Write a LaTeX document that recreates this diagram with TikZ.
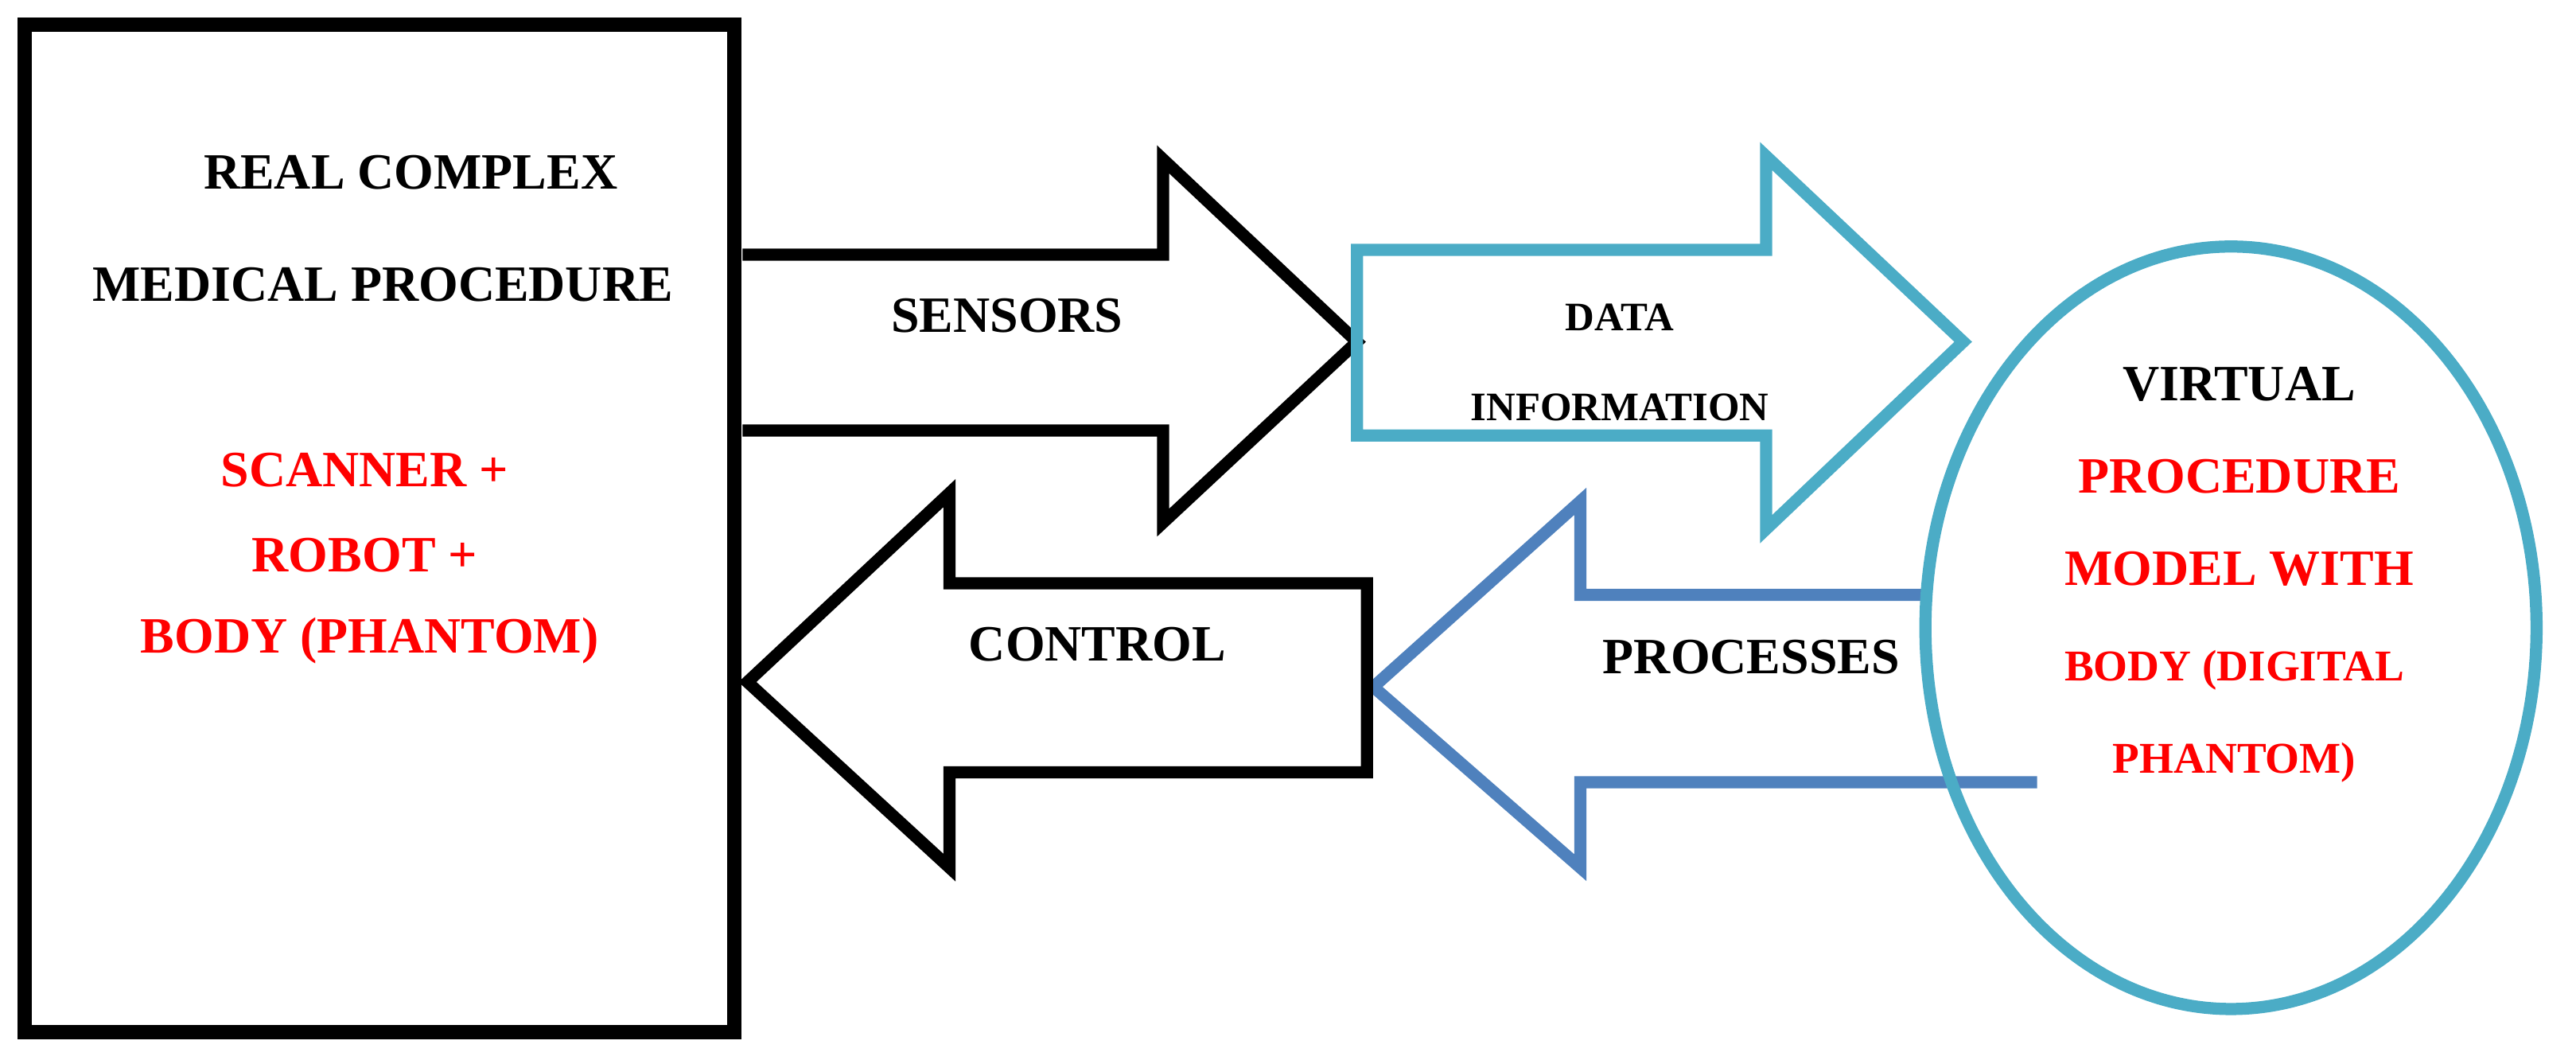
\documentclass[tikz,border=0pt]{standalone}
\usepackage{fontspec}
\setmainfont{Liberation Serif}
\usetikzlibrary{positioning}
\definecolor{teal}{HTML}{4BACC6}
\definecolor{steel}{HTML}{4F81BD}
\definecolor{redtxt}{HTML}{FF0000}
\tikzset{
  lbl/.style={font=\fontsize{8.8}{10}\selectfont\bfseries, inner sep=0pt},
  small/.style={font=\fontsize{7}{8}\selectfont\bfseries, inner sep=0pt},
  redlbl/.style={lbl, text=redtxt},
  arr/.style={line width=2.1pt, line join=miter}
}
\begin{document}
\begin{tikzpicture}[x=0.01cm, y=-0.01cm]
	\useasboundingbox (0,0) rectangle (1568,645);
	% The frame:
	\draw[line width=2.4pt] (15,15) rectangle (447,628);
	% Arrows:
	\draw[arr, black] (452,155) -- (708,155) -- (708,97) -- (826,208)
		-- (708,318) -- (708,262) -- (452,262);
	\draw[arr, teal] (826,152) -- (1075,152) -- (1075,95) -- (1195,208)
		-- (1075,322) -- (1075,265) -- (826,265) -- cycle;
	\draw[arr, steel] (1175,362) -- (962,362) -- (962,305) -- (836,418)
		-- (962,528) -- (962,476) -- (1240,476);
	\draw[arr, black] (832,355) -- (578,355) -- (578,300) -- (455,415)
		-- (578,528) -- (578,470) -- (832,470) -- cycle;
	% Model:
	\draw[teal, line width=2.1pt] (1358,382) ellipse [x radius=186, y radius=232];
	% Labels:
	\node[lbl] (real) at (250,105) {REAL COMPLEX};
	\node[lbl] (medical) at (233,173) {MEDICAL PROCEDURE};
	\node[redlbl] (scanner) at (222,286) {SCANNER +};
	\node[redlbl] (robot) at (222,338) {ROBOT +};
	\node[redlbl] (body) at (225,390) {BODY (PHANTOM)};
	\node[lbl] (sensors) at (613,192) {SENSORS};
	\node[small] (data) at (986,193) {DATA};
	\node[small] (info) at (986,248) {INFORMATION};
	\node[lbl] (control) at (668,392) {CONTROL};
	\node[lbl] (processes) at (1066,400) {PROCESSES};
	\node[lbl] (virtual) at (1363,234) {VIRTUAL};
	\node[redlbl] (procedure) at (1363,290) {PROCEDURE};
	\node[redlbl] (model) at (1363,346) {MODEL WITH};
	\node[redlbl, font=\fontsize{7.6}{8}\selectfont\bfseries] (digital) at (1360,408) {BODY (DIGITAL};
	\node[redlbl, font=\fontsize{7.6}{8}\selectfont\bfseries] (phantom) at (1360,464) {PHANTOM)};
\end{tikzpicture}
\end{document}
